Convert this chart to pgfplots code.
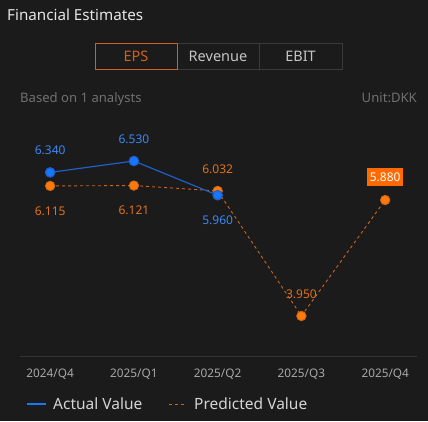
\documentclass[border=0pt]{standalone}
\usepackage{pgfplots}
\pgfplotsset{compat=1.18}
\usepackage{fontspec}
\setmainfont{Noto Sans}
\definecolor{bg}{HTML}{1B1B1B}
\definecolor{titlecol}{HTML}{E6E6E6}
\definecolor{tabtext}{HTML}{C4C4C4}
\definecolor{tabborder}{HTML}{3A3A3A}
\definecolor{tabsel}{HTML}{D2601A}
\definecolor{subcol}{HTML}{707070}
\definecolor{tickcol}{HTML}{A8A8A8}
\definecolor{axiscol}{HTML}{343434}
\definecolor{bluemark}{HTML}{1677FF}
\definecolor{blueline}{HTML}{1F5FC8}
\definecolor{bluelab}{HTML}{3D86F2}
\definecolor{orangemark}{HTML}{FF7A0B}
\definecolor{orangeline}{HTML}{C8661A}
\definecolor{orangelab}{HTML}{E0701A}
\definecolor{orangebox}{HTML}{FF6A00}
\definecolor{legcol}{HTML}{D4D4D4}
\begin{document}
\begin{tikzpicture}[x=1pt,y=1pt]
\fill[bg] (0,0) rectangle (428,421);
% title
\node[anchor=base west, inner sep=0, text=titlecol, font=\fontsize{15.2}{17}\selectfont] at (7,400) {Financial Estimates};
% tabs
\draw[tabborder, line width=0.8pt] (177,378) rectangle (342,352);
\draw[tabborder, line width=0.8pt] (259,378) -- (259,352);
\draw[tabsel, line width=0.9pt] (95,378) rectangle (177,352);
\node[text=tabsel, font=\fontsize{14.5}{16}\selectfont] at (136,365) {EPS};
\node[text=tabtext, font=\fontsize{14.5}{16}\selectfont] at (218,365) {Revenue};
\node[text=tabtext, font=\fontsize{14.5}{16}\selectfont] at (300.5,365) {EBIT};
% subtitle
\node[anchor=base west, inner sep=0, text=subcol, font=\fontsize{13.1}{15}\selectfont] at (20,318) {Based on 1 analysts};
\node[anchor=base east, inner sep=0, text=subcol, font=\fontsize{13.1}{15}\selectfont] at (417,318) {Unit:DKK};
\begin{axis}[
  at={(20pt,65pt)}, anchor=south west,
  scale only axis, width=397pt, height=248pt,
  xmin=-0.36, xmax=4.38, ymin=3.284, ymax=7.412,
  axis x line*=bottom, axis y line=none,
  x axis line style={-, draw=axiscol, line width=0.8pt},
  xtick={0,1,2,3,4},
  xticklabels={2024/Q4,2025/Q1,2025/Q2,2025/Q3,2025/Q4},
  major tick length=0pt,
  xticklabel style={anchor=base, yshift=-21pt, text=tickcol, font=\fontsize{11.8}{13}\selectfont},
  clip=false,
]
% predicted
\addplot[orangeline, line width=0.9pt, dash pattern=on 3pt off 3pt, mark=*, mark size=4.7pt, mark options={solid, fill=orangemark, draw=none}]
  coordinates {(0,6.115) (1,6.121) (2,6.032) (3,3.950) (4,5.880)};
% actual
\addplot[blueline, line width=1.2pt, mark=*, mark size=4.7pt, mark options={fill=bluemark, draw=none}]
  coordinates {(0,6.340) (1,6.530) (2,5.960)};
% labels
\addplot[draw=none, mark=none, forget plot, point meta=explicit symbolic, nodes near coords,
  every node near coord/.append style={anchor=center, yshift=22pt, text=bluelab, font=\fontsize{12}{13}\selectfont}]
  coordinates {(0,6.340)[6.340] (1,6.530)[6.530]};
\addplot[draw=none, mark=none, forget plot, point meta=explicit symbolic, nodes near coords,
  every node near coord/.append style={anchor=center, yshift=-25pt, text=bluelab, font=\fontsize{12}{13}\selectfont}]
  coordinates {(2,5.960)[5.960]};
\addplot[draw=none, mark=none, forget plot, point meta=explicit symbolic, nodes near coords,
  every node near coord/.append style={anchor=center, yshift=-25pt, text=orangelab, font=\fontsize{12}{13}\selectfont}]
  coordinates {(0,6.115)[6.115] (1,6.121)[6.121]};
\addplot[draw=none, mark=none, forget plot, point meta=explicit symbolic, nodes near coords,
  every node near coord/.append style={anchor=center, yshift=22pt, text=orangelab, font=\fontsize{12}{13}\selectfont}]
  coordinates {(2,6.032)[6.032] (3,3.950)[3.950]};
\addplot[draw=none, mark=none, forget plot, point meta=explicit symbolic, nodes near coords,
  every node near coord/.append style={anchor=center, yshift=23pt, text=white, fill=orangebox, inner xsep=2.5pt, inner ysep=2pt, minimum height=17.5pt, font=\fontsize{12}{13}\selectfont}]
  coordinates {(4,5.880)[5.880]};
\end{axis}
% legend
\draw[bluemark, line width=1.6pt] (27,17) -- (46,17);
\node[anchor=base west, inner sep=0, text=legcol, font=\fontsize{15.5}{17}\selectfont] at (53,12) {Actual Value};
\draw[orangeline, line width=0.9pt, dash pattern=on 3pt off 3pt] (169,17) -- (187,17);
\node[anchor=base west, inner sep=0, text=legcol, font=\fontsize{15.5}{17}\selectfont] at (194,12) {Predicted Value};
\end{tikzpicture}
\end{document}
